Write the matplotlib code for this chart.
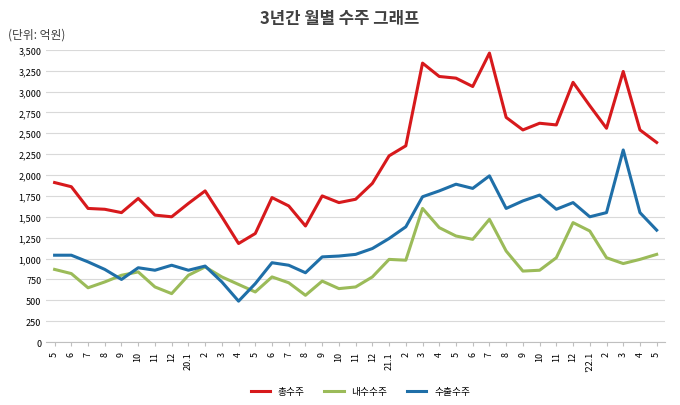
import matplotlib.pyplot as plt
import matplotlib.ticker as mticker
from matplotlib import font_manager

# pick whichever installed CJK family actually carries Hangul
names = [f.name for f in font_manager.fontManager.ttflist]
cjk = [n for n in ['Noto Sans CJK KR', 'Noto Sans CJK JP', 'Noto Sans CJK SC', 'Noto Sans CJK TC']
       if n in names]
plt.rcParams['font.family'] = cjk + ['DejaVu Sans']

months = ['5', '6', '7', '8', '9', '10', '11', '12', '20.1', '2', '3', '4', '5', '6', '7', '8',
          '9', '10', '11', '12', '21.1', '2', '3', '4', '5', '6', '7', '8', '9', '10', '11', '12',
          "'22.1", '2', '3', '4', '5']
total = [1910, 1860, 1600, 1590, 1550, 1720, 1520, 1500, 1660, 1810, 1500, 1180, 1300, 1730, 1630,
         1390, 1750, 1670, 1710, 1900, 2230, 2350, 3340, 3180, 3160, 3060, 3460, 2690, 2540, 2620,
         2600, 3110, 2830, 2560, 3240, 2540, 2390]
domestic = [870, 820, 650, 720, 800, 840, 660, 580, 800, 900, 780, 690, 600, 780, 710, 560, 730,
            640, 660, 780, 990, 980, 1600, 1370, 1270, 1230, 1470, 1090, 850, 860, 1010, 1430,
            1330, 1010, 940, 990, 1050]
export = [1040, 1040, 960, 870, 750, 890, 860, 920, 860, 910, 720, 490, 700, 950, 920, 830, 1020,
          1030, 1050, 1120, 1240, 1380, 1740, 1810, 1890, 1840, 1990, 1600, 1690, 1760, 1590, 1670,
          1500, 1550, 2300, 1550, 1340]

fig = plt.figure(figsize=(6.8, 4.06), dpi=100)
ax = fig.add_axes([0.068, 0.155, 0.91, 0.72])
x = range(len(months))
ax.plot(x, total, color='#d7191c', lw=2.2, label='총수주')
ax.plot(x, domestic, color='#9bbb59', lw=2.2, label='내수수주')
ax.plot(x, export, color='#1f6fa8', lw=2.2, label='수출수주')

ax.set_ylim(0, 3500)
ax.set_xlim(-0.5, len(months) - 0.5)
ax.yaxis.set_major_locator(mticker.MultipleLocator(250))
ax.yaxis.set_major_formatter(mticker.FuncFormatter(lambda v, p: f'{int(v):,}'))
ax.set_xticks(list(x))
ax.set_xticklabels(months, rotation=90, fontsize=6.5)
ax.tick_params(axis='y', labelsize=6.5, length=0)
ax.tick_params(axis='x', length=3, color='#bfbfbf')
ax.grid(axis='y', color='#d9d9d9', lw=0.8)
ax.set_axisbelow(True)
for s in ['top', 'right', 'left']:
    ax.spines[s].set_visible(False)
ax.spines['bottom'].set_color('#bfbfbf')

fig.text(0.5, 0.94, '3년간 월별 수주 그래프', ha='center', fontsize=12, fontweight='bold', color='#404040')
fig.text(0.012, 0.905, '(단위: 억원)', fontsize=8.5, color='#404040')
fig.legend(loc='lower center', ncol=3, frameon=False, fontsize=7, bbox_to_anchor=(0.53, 0.0))

fig.savefig('out.png')
